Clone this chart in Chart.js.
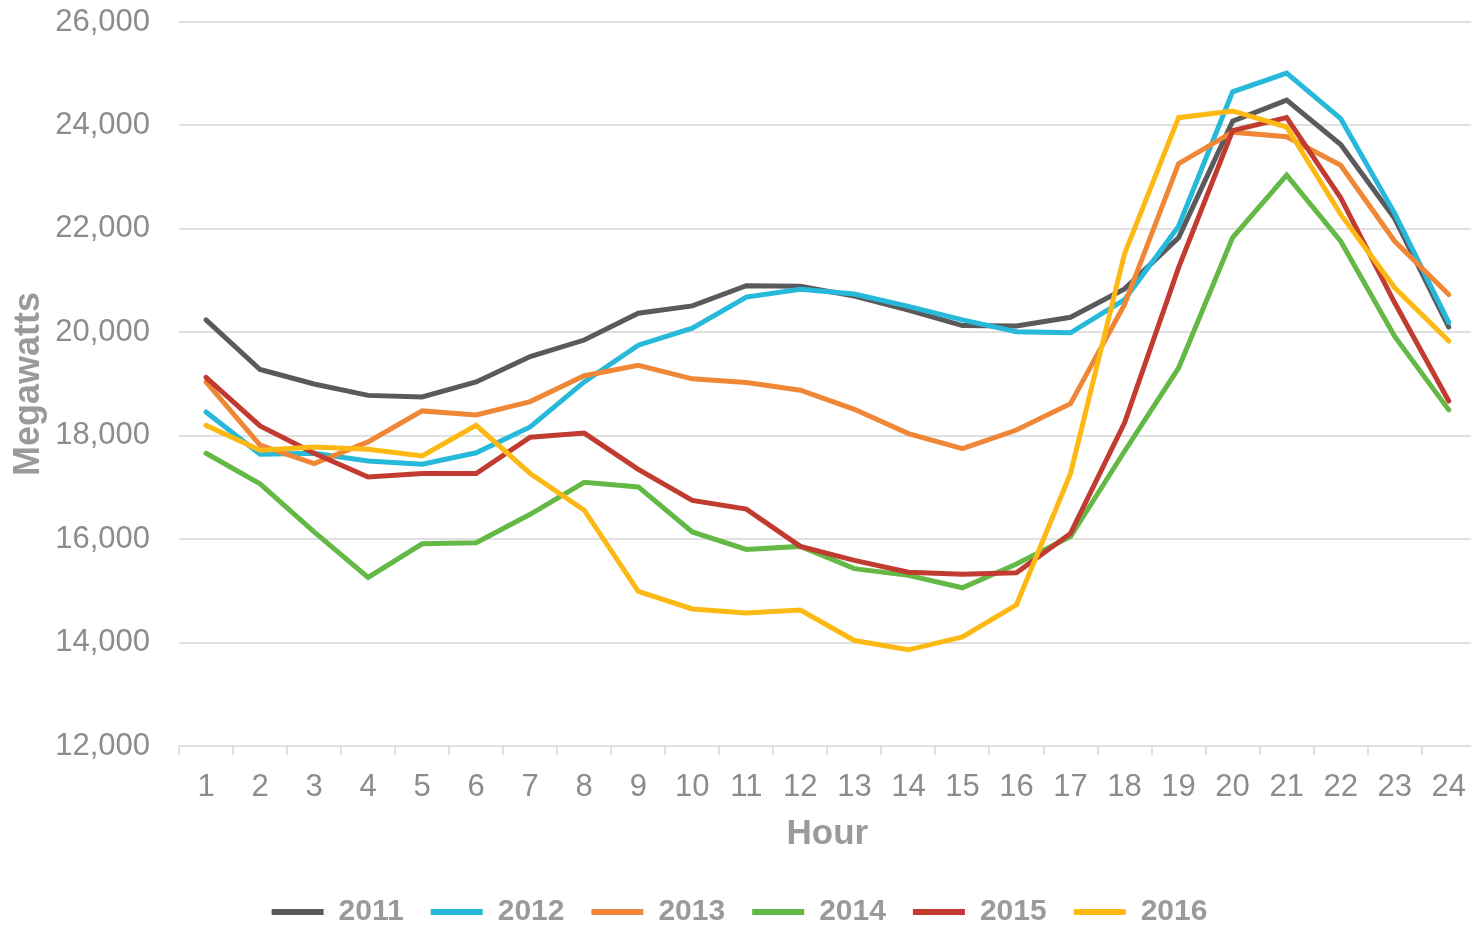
<!DOCTYPE html>
<html>
<head>
<meta charset="utf-8">
<title>Hourly load by year</title>
<script src="https://cdn.jsdelivr.net/npm/chart.js@4.4.1/dist/chart.umd.min.js"></script>
<style>
  html, body { margin: 0; padding: 0; background: #fff; overflow: hidden; }
  #wrap { position: relative; width: 1480px; height: 925px; }
</style>
</head>
<body>
<div id="wrap"><canvas id="loadChart"></canvas></div>
<script>
// ---- Data ----
const HOURS = ["1","2","3","4","5","6","7","8","9","10","11","12",
               "13","14","15","16","17","18","19","20","21","22","23","24"];
const YEARS = ["2011", "2012", "2013", "2014", "2015", "2016"];

const MW_2011 = [20240, 19280, 19000, 18780, 18750, 19040, 19530, 19850, 20370, 20510, 20900, 20890,
                 20700, 20430, 20130, 20120, 20290, 20840, 21830, 24080, 24490, 23630, 22200, 20100];
const MW_2012 = [18460, 17640, 17660, 17510, 17450, 17670, 18170, 19040, 19750, 20080, 20680, 20830,
                 20740, 20500, 20240, 20010, 19990, 20630, 22050, 24650, 25010, 24130, 22300, 20190];
const MW_2013 = [19040, 17820, 17460, 17880, 18480, 18400, 18660, 19160, 19360, 19100, 19030, 18880,
                 18510, 18040, 17750, 18110, 18620, 20540, 23260, 23870, 23780, 23230, 21760, 20730];
const MW_2014 = [17660, 17070, 16140, 15260, 15910, 15930, 16480, 17100, 17010, 16140, 15800, 15860,
                 15430, 15300, 15060, 15520, 16050, 17700, 19310, 21830, 23040, 21760, 19920, 18500];
const MW_2015 = [19130, 18190, 17660, 17200, 17270, 17270, 17970, 18050, 17350, 16750, 16580, 15860,
                 15590, 15360, 15320, 15350, 16110, 18250, 21250, 23900, 24150, 22600, 20570, 18670];
const MW_2016 = [18200, 17720, 17780, 17740, 17610, 18200, 17270, 16560, 14990, 14650, 14570, 14630,
                 14040, 13860, 14110, 14730, 17270, 21520, 24150, 24280, 23970, 22280, 20860, 19830];

const Y_MIN = 12000, Y_MAX = 26000, Y_STEP = 2000;

(function () {
    "use strict";

    // ---- Color tokens ----
    const COLORS = {
        y2011: "#5a5a5c",
        y2012: "#27b9d9",
        y2013: "#ef8736",
        y2014: "#64b946",
        y2015: "#c23b31",
        y2016: "#fdb913",
        grid:  "#e0e0e0",
        text:  "#8c8c8c",
        title: "#9a9a9a",
    };
    const FONT = "'Liberation Sans', Arial, sans-serif";

    const series = [MW_2011, MW_2012, MW_2013, MW_2014, MW_2015, MW_2016];
    const palette = [COLORS.y2011, COLORS.y2012, COLORS.y2013, COLORS.y2014, COLORS.y2015, COLORS.y2016];

    const datasets = YEARS.map((year, i) => ({
        label: year,
        data: series[i],
        borderColor: palette[i],
        backgroundColor: palette[i],
        borderWidth: 5,
        borderCapStyle: "round",
        pointRadius: 0,
        pointHoverRadius: 0,
        tension: 0,
        fill: false,
        order: YEARS.length - i,   // later years painted on top
    }));

    new Chart(document.getElementById("loadChart"), {
        type: "line",
        data: { labels: HOURS, datasets: datasets },
        options: {
            responsive: true,
            maintainAspectRatio: false,
            animation: false,
            layout: { padding: { top: 22, right: 1, left: 0, bottom: -12 } },
            plugins: {
                tooltip: { enabled: false },
                legend: {
                    position: "bottom",
                    labels: {
                        color: COLORS.title,
                        font: { family: FONT, size: 30, weight: "bold" },
                        boxWidth: 52,
                        boxHeight: 6,
                        padding: 27,
                        useBorderRadius: true,
                        borderRadius: 3,
                        generateLabels: (chart) => chart.data.datasets.map((ds, i) => ({
                            text: ds.label,
                            fillStyle: ds.borderColor,
                            strokeStyle: ds.borderColor,
                            lineWidth: 0,
                            fontColor: COLORS.title,
                            hidden: false,
                            datasetIndex: i,
                        })),
                    },
                },
            },
            scales: {
                x: {
                    offset: true,
                    grid: {
                        offset: true,
                        drawOnChartArea: false,
                        drawTicks: true,
                        tickLength: 9,
                        color: COLORS.grid,
                        lineWidth: 2,
                    },
                    border: { display: true, color: COLORS.grid, width: 2 },
                    ticks: {
                        color: COLORS.text,
                        font: { family: FONT, size: 31 },
                        padding: 14,
                        maxRotation: 0,
                        autoSkip: false,
                    },
                    title: {
                        display: true,
                        text: "Hour",
                        color: COLORS.title,
                        font: { family: FONT, size: 35, weight: "bold" },
                        padding: { top: 0, bottom: 15 },
                    },
                    afterFit: (scale) => { scale.height = 124; },
                },
                y: {
                    min: Y_MIN,
                    max: Y_MAX,
                    grid: {
                        color: COLORS.grid,
                        lineWidth: 2,
                        drawTicks: false,
                    },
                    border: { display: false },
                    ticks: {
                        stepSize: Y_STEP,
                        color: COLORS.text,
                        font: { family: FONT, size: 31 },
                        padding: 29,
                        callback: (v) => v.toLocaleString("en-US"),
                    },
                    title: {
                        display: true,
                        text: "Megawatts",
                        color: COLORS.title,
                        font: { family: FONT, size: 36, weight: "bold" },
                        padding: { top: 7, bottom: 0 },
                    },
                    // fixed gutter; tick padding must not push the plot down
                    afterFit: (scale) => {
                        scale.width = 179;
                        scale.paddingTop = 0;
                        scale.paddingBottom = 0;
                    },
                },
            },
        },
    });
})();
</script>
</body>
</html>
